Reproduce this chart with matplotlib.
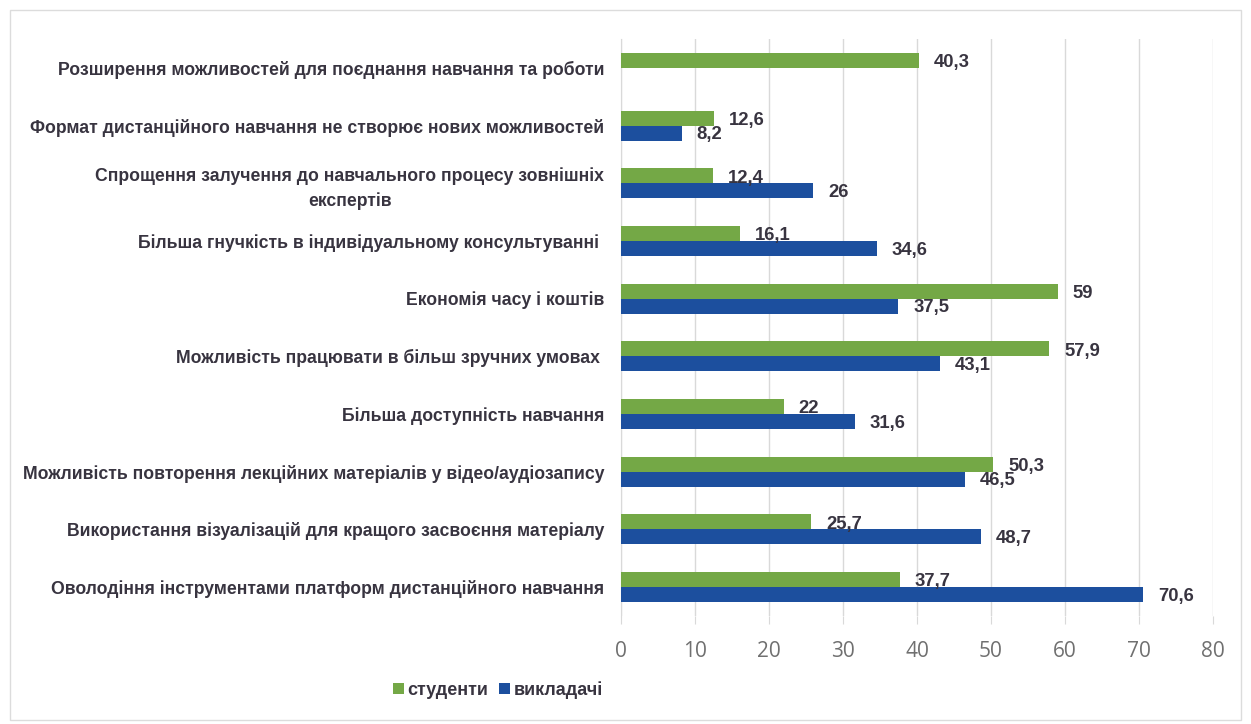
import matplotlib.pyplot as plt
import numpy as np
from matplotlib.patches import Rectangle

# categories top to bottom
categories = [
    "Розширення можливостей для поєднання навчання та роботи",
    "Формат дистанційного навчання не створює нових можливостей",
    "Спрощення залучення до навчального процесу зовнішніх\nекспертів",
    "Більша гнучкість в індивідуальному консультуванні ",
    "Економія часу і коштів",
    "Можливість працювати в більш зручних умовах ",
    "Більша доступність навчання",
    "Можливість повторення лекційних матеріалів у відео/аудіозапису",
    "Використання візуалізацій для кращого засвоєння матеріалу",
    "Оволодіння інструментами платформ дистанційного навчання",
]
students = [40.3, 12.6, 12.4, 16.1, 59, 57.9, 22, 50.3, 25.7, 37.7]
teachers = [None, 8.2, 26, 34.6, 37.5, 43.1, 31.6, 46.5, 48.7, 70.6]
ticks = [0, 10, 20, 30, 40, 50, 60, 70, 80]

green = "#74a846"
blue = "#1c4f9e"
txt = "#383440"
narrow = ["Liberation Sans", "DejaVu Sans"]

fig = plt.figure(figsize=(12.51, 7.24), dpi=100)
fig.patches.append(Rectangle((0.008, 0.006), 0.984, 0.98, transform=fig.transFigure,
                             fill=False, edgecolor="#dcdcdc", linewidth=1))
ax = fig.add_axes([0.4964, 0.1492, 0.4732, 0.797])

n = len(categories)
ypos = np.arange(n)[::-1]
h = 0.26

ax.barh(ypos + h / 2, students, height=h, color=green, label="студенти", zorder=3)
tv = [0 if v is None else v for v in teachers]
ax.barh(ypos - h / 2, tv, height=h, color=blue, label="викладачі", zorder=3)

def fmt(v):
    s = ("%g" % v).replace(".", ",")
    return s

# value labels, slightly below bar centres like the original
for y, s, t in zip(ypos, students, teachers):
    ax.text(s + 2.0, y + h / 2 - 0.04, fmt(s), va="center", ha="left", fontsize=13.3,
            fontweight="bold", color=txt, family=narrow)
    if t is not None:
        ax.text(t + 2.0, y - h / 2 - 0.03, fmt(t), va="center", ha="left", fontsize=13.3,
                fontweight="bold", color=txt, family=narrow)

ax.set_xlim(0, 80)
ax.set_ylim(-0.5, n - 0.5)
ax.set_xticks(ticks)
ax.set_xticklabels([str(t) for t in ticks], fontsize=15, color="#707070",
                   family=["Open Sans", "DejaVu Sans"])
ax.set_yticks(ypos)
ax.set_yticklabels(categories, fontsize=12.7, fontweight="bold", color=txt, family=narrow,
                   ha="right", multialignment="center", linespacing=1.5)
ax.tick_params(axis="y", length=0, pad=12)
ax.tick_params(axis="x", length=6, color="#d9d9d9", pad=12)
ax.grid(axis="x", color="#d9d9d9", linewidth=1, zorder=0)
for sp in ["top", "right", "bottom"]:
    ax.spines[sp].set_visible(False)
ax.spines["left"].set_color("#d9d9d9")

leg = fig.legend(loc="center", bbox_to_anchor=(0.398, 0.047), ncol=2, frameon=False,
                 handlelength=0.6, handleheight=0.6, handletextpad=0.2, columnspacing=0.6,
                 prop={"family": narrow, "weight": "bold", "size": 13})
for t in leg.get_texts():
    t.set_color(txt)

fig.savefig("out.png", dpi=100)
